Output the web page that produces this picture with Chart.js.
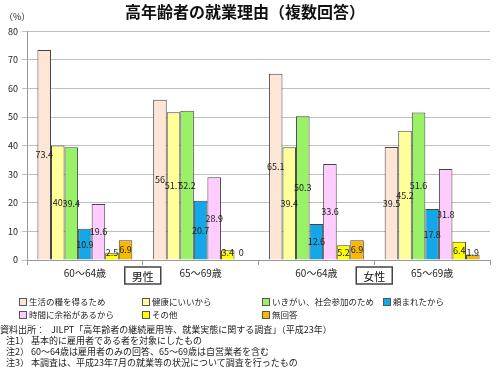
<!DOCTYPE html>
<html lang="ja">
<head>
<meta charset="utf-8">
<title>高年齢者の就業理由（複数回答）</title>
<script src="https://cdn.jsdelivr.net/npm/chart.js@4.4.1/dist/chart.umd.min.js"></script>
<style>
  html, body { margin: 0; padding: 0; background: #fff; }
  body { width: 500px; height: 367px; position: relative; overflow: hidden;
         font-family: "Noto Sans CJK JP", "Noto Sans", sans-serif; color: #222; }
  #chart { position: absolute; left: 0; top: 0; }
  #legend { position: absolute; left: 19px; top: 295px; display: grid;
            grid-template-columns: 123px 120px 121px 110px; grid-auto-rows: 13px;
            font-size: 8.5px; line-height: 13px; }
  #legend span.box { display: inline-block; width: 6px; height: 6px; border: 1px solid #555;
                     margin-right: 2px; vertical-align: -1px; }
  #notes { position: absolute; left: 0; top: 324px; font-size: 9px; line-height: 11px; white-space: nowrap; }
  #notes div.n { padding-left: 6px; }
</style>
</head>
<body>
<canvas id="chart" width="500" height="367"></canvas>
<div id="legend"></div>
<div id="notes">
  <div>資料出所：&nbsp;&nbsp;&nbsp;JILPT「高年齢者の継続雇用等、就業実態に関する調査」（平成23年）</div>
  <div class="n">注1）&nbsp;基本的に雇用者である者を対象にしたもの</div>
  <div class="n">注2）&nbsp;60～64歳は雇用者のみの回答、65～69歳は自営業者を含む</div>
  <div class="n">注3）&nbsp;本調査は、平成23年7月の就業等の状況について調査を行ったもの</div>
</div>
<script>
// カテゴリ（男性 60～64, 65～69 / 女性 60～64, 65～69）
const categories = ['60～64歳', '65～69歳', '60～64歳', '65～69歳'];
const sexLabels = ['男性', '女性'];

// 系列ごとの値（%）
const livelihood = [73.4, 56, 65.1, 39.5];   // 生活の糧を得るため
const health     = [40, 51.7, 39.4, 45.2];   // 健康にいいから
const ikigai     = [39.4, 52.2, 50.3, 51.6]; // いきがい、社会参加のため
const asked      = [10.9, 20.7, 12.6, 17.8]; // 頼まれたから
const spareTime  = [19.6, 28.9, 33.6, 31.8]; // 時間に余裕があるから
const other      = [2.5, 3.4, 5.2, 6.4];     // その他
const noAnswer   = [6.9, 0, 6.9, 1.9];       // 無回答

const yMin = 0, yMax = 80, yStep = 10;
const font = '"Noto Sans CJK JP", "Noto Sans", sans-serif';

// 棒の中央に値を書く
const barValueLabels = {
  id: 'barValueLabels',
  afterDatasetsDraw(chart) {
    const ctx = chart.ctx;
    ctx.save();
    ctx.font = '9px ' + font;
    ctx.fillStyle = '#222';
    ctx.textAlign = 'center';
    ctx.textBaseline = 'middle';
    chart.data.datasets.forEach((ds, i) => {
      chart.getDatasetMeta(i).data.forEach((bar, j) => {
        const y = Math.min((bar.y + bar.base) / 2, bar.base - 7);
        ctx.fillText(String(ds.data[j]), bar.x, y);
      });
    });
    ctx.restore();
  }
};

// 男性・女性の枠と（%）
const extras = {
  id: 'extras',
  afterDraw(chart) {
    const ctx = chart.ctx;
    const xs = chart.scales.x;
    const bottom = chart.chartArea.bottom;
    ctx.save();
    sexLabels.forEach((s, k) => {
      const cx = (xs.getPixelForValue(k * 2) + xs.getPixelForValue(k * 2 + 1)) / 2;
      const w = 36, h = 17, top = bottom + 7;
      ctx.fillStyle = '#fff';
      ctx.fillRect(cx - w / 2, top, w, h);
      ctx.strokeStyle = '#444';
      ctx.lineWidth = 1.5;
      ctx.strokeRect(cx - w / 2, top, w, h);
      ctx.fillStyle = '#111';
      ctx.font = '11px ' + font;
      ctx.textAlign = 'center';
      ctx.textBaseline = 'middle';
      ctx.fillText(s, cx, top + h / 2 + 1);
    });
    ctx.font = '9px ' + font;
    ctx.fillStyle = '#222';
    ctx.textAlign = 'left';
    ctx.textBaseline = 'middle';
    ctx.fillText('（%）', 4, 17);
    ctx.restore();
  }
};

const ctx = document.getElementById('chart').getContext('2d');
const chart = new Chart(ctx, {
  type: 'bar',
  data: {
    labels: categories,
    datasets: [
      { label: '生活の糧を得るため', data: livelihood, backgroundColor: '#fde6d6' },
      { label: '健康にいいから', data: health, backgroundColor: '#ffff99' },
      { label: 'いきがい、社会参加のため', data: ikigai, backgroundColor: '#99f266' },
      { label: '頼まれたから', data: asked, backgroundColor: '#14a7e8' },
      { label: '時間に余裕があるから', data: spareTime, backgroundColor: '#ffccff' },
      { label: 'その他', data: other, backgroundColor: '#ffff00' },
      { label: '無回答', data: noAnswer, backgroundColor: '#f8b900' }
    ].map(d => Object.assign(d, { borderColor: '#444', borderWidth: 1, barPercentage: 1, categoryPercentage: 0.82 }))
  },
  options: {
    responsive: false,
    animation: false,
    devicePixelRatio: 1,
    layout: { padding: { left: 0, right: 10, top: 0, bottom: 80 } },
    plugins: {
      legend: { display: false },
      tooltip: { enabled: false },
      title: {
        display: true,
        text: '高年齢者の就業理由（複数回答）',
        color: '#111',
        font: { family: font, size: 16, weight: 'bold', lineHeight: 1.2 },
        padding: { top: 2, bottom: 10 }
      }
    },
    scales: {
      x: {
        afterFit: s => { s.height = 27; },
        grid: { drawOnChartArea: false, offset: true, tickLength: 5, color: '#999' },
        border: { color: '#999' },
        ticks: { color: '#222', font: { family: font, size: 10 }, padding: 2 }
      },
      y: {
        min: yMin, max: yMax,
        afterFit: s => { s.width = 27; },
        grid: { color: '#c0c0c0', tickLength: 5 },
        border: { color: '#999' },
        ticks: { stepSize: yStep, color: '#222', font: { family: font, size: 9 }, padding: 4 }
      }
    }
  },
  plugins: [barValueLabels, extras]
});

// 凡例（HTML）
const legendEl = document.getElementById('legend');
chart.data.datasets.forEach(ds => {
  const item = document.createElement('div');
  item.innerHTML = '<span class="box" style="background:' + ds.backgroundColor + '"></span>' + ds.label;
  legendEl.appendChild(item);
});
</script>
</body>
</html>
